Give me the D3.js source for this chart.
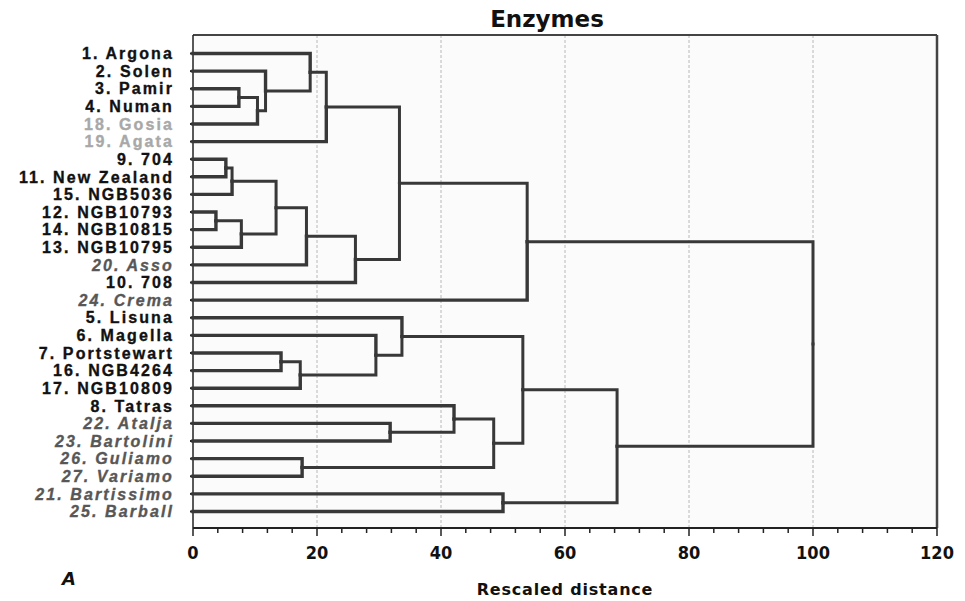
<!DOCTYPE html>
<html>
<head>
<meta charset="utf-8">
<script src="https://cdn.jsdelivr.net/npm/d3@7"></script>
<style>
  html, body { margin: 0; padding: 0; background: #ffffff; }
  svg { display: block; }
</style>
</head>
<body>
<svg id="chart" width="965" height="601"></svg>
<script>
// Leaf labels in display order (top to bottom)
const leaves = [
  "1. Argona", "2. Solen", "3. Pamir", "4. Numan", "18. Gosia", "19. Agata",
  "9. 704", "11. New Zealand", "15. NGB5036", "12. NGB10793", "14. NGB10815",
  "13. NGB10795", "20. Asso", "10. 708", "24. Crema", "5. Lisuna", "6. Magella",
  "7. Portstewart", "16. NGB4264", "17. NGB10809", "8. Tatras", "22. Atalja",
  "23. Bartolini", "26. Guliamo", "27. Variamo", "21. Bartissimo", "25. Barball"
];
// Label groups: cultivars shown light grey, and italic dark-grey ones
const greyLeaves = ["18. Gosia", "19. Agata"];
const italicLeaves = ["20. Asso", "24. Crema", "22. Atalja", "23. Bartolini",
  "26. Guliamo", "27. Variamo", "21. Bartissimo", "25. Barball"];

// Agglomeration steps: [first member, second member, rescaled distance]
// "L#" = leaf index, "M#" = earlier merge index
const merges = [
  ["L2", "L3", 7.4],     // M0
  ["M0", "L4", 10.4],    // M1
  ["L1", "M1", 11.7],    // M2
  ["L0", "M2", 18.9],    // M3
  ["M3", "L5", 21.5],    // M4
  ["L6", "L7", 5.3],     // M5
  ["M5", "L8", 6.3],     // M6
  ["L9", "L10", 3.7],    // M7
  ["M7", "L11", 7.8],    // M8
  ["M6", "M8", 13.4],    // M9
  ["M9", "L12", 18.3],   // M10
  ["M10", "L13", 26.2],  // M11
  ["M4", "M11", 33.3],   // M12
  ["M12", "L14", 53.9],  // M13
  ["L17", "L18", 14.2],  // M14
  ["M14", "L19", 17.3],  // M15
  ["L16", "M15", 29.5],  // M16
  ["L15", "M16", 33.7],  // M17
  ["L21", "L22", 31.8],  // M18
  ["L20", "M18", 42.1],  // M19
  ["L23", "L24", 17.6],  // M20
  ["M19", "M20", 48.5],  // M21
  ["M17", "M21", 53.2],  // M22
  ["L25", "L26", 50.0],  // M23
  ["M22", "M23", 68.4],  // M24
  ["M13", "M24", 100]    // M25 (root)
];

const xTicks = [0, 20, 40, 60, 80, 100, 120];
const xMinorStep = 4;
const titleText = "Enzymes";
const xTitle = "Rescaled distance";
const panelLetter = "A";

// ---- layout ----
const plot = { left: 193, right: 937, top: 35, bottom: 528 };

const svg = d3.select("#chart");

const x = d3.scaleLinear().domain([0, 120]).range([plot.left, plot.right]);
const y = d3.scalePoint().domain(d3.range(leaves.length))
  .range([53.5, 511.5]);

// Build nested tree from merge list
function node(id) {
  if (id[0] === "L") {
    const i = +id.slice(1);
    return { name: leaves[i], leaf: i, h: 0 };
  }
  const m = merges[+id.slice(1)];
  return { h: m[2], children: [node(m[0]), node(m[1])] };
}
const root = d3.hierarchy(node("M" + (merges.length - 1)));

// Vertical position: leaves on their rows, merges at mid-point of their two members
root.eachAfter(d => {
  if (d.children) d.py = d3.mean(d.children, c => c.py);
  else d.py = y(d.data.leaf);
  d.px = x(d.data.h);
});

// Plot background
svg.append("rect")
  .attr("x", plot.left).attr("y", plot.top)
  .attr("width", plot.right - plot.left).attr("height", plot.bottom - plot.top)
  .attr("fill", "#fbfbfb").attr("stroke", "none");

// Dashed vertical grid lines
svg.append("g").selectAll("line")
  .data(xTicks.filter(t => t > 0 && t < 120))
  .join("line")
  .attr("x1", d => x(d)).attr("x2", d => x(d))
  .attr("y1", plot.top).attr("y2", plot.bottom)
  .attr("stroke", "#b8b8b8").attr("stroke-width", 1)
  .attr("stroke-dasharray", "3,2");

// Frame lines
svg.append("line").attr("x1", plot.left).attr("x2", plot.right)
  .attr("y1", plot.top).attr("y2", plot.top)
  .attr("stroke", "#444").attr("stroke-width", 2);
svg.append("line").attr("x1", plot.right).attr("x2", plot.right)
  .attr("y1", plot.top).attr("y2", plot.bottom)
  .attr("stroke", "#444").attr("stroke-width", 2.5);
svg.append("line").attr("x1", plot.left).attr("x2", plot.left)
  .attr("y1", plot.top).attr("y2", plot.bottom)
  .attr("stroke", "#222").attr("stroke-width", 1.5);

// Bottom axis: major ticks with labels, minor ticks every 4 units
const axisG = svg.append("g").attr("transform", `translate(0,${plot.bottom})`);
axisG.append("line").attr("x1", plot.left).attr("x2", plot.right)
  .attr("stroke", "#222").attr("stroke-width", 2);
axisG.selectAll("line.minor")
  .data(d3.range(0, 120 + 0.01, xMinorStep))
  .join("line").attr("class", "minor")
  .attr("x1", d => x(d)).attr("x2", d => x(d))
  .attr("y1", 0).attr("y2", d => (d % 20 === 0 ? 8 : 5))
  .attr("stroke", "#222").attr("stroke-width", 1.5);
axisG.selectAll("text")
  .data(xTicks)
  .join("text")
  .attr("x", d => x(d)).attr("y", 31)
  .attr("text-anchor", "middle")
  .attr("font-family", "'Liberation Sans Narrow', 'DejaVu Sans Condensed', sans-serif")
  .attr("font-weight", "bold")
  .attr("font-size", 18)
  .attr("fill", "#111")
  .text(d => d);

// Left ticks at each leaf row
svg.append("g").selectAll("line")
  .data(d3.range(leaves.length))
  .join("line")
  .attr("x1", plot.left - 3).attr("x2", plot.left)
  .attr("y1", d => y(d)).attr("y2", d => y(d))
  .attr("stroke", "#222").attr("stroke-width", 2);

// Dendrogram elbows: child -> across to parent distance -> up/down to parent row
svg.append("g").selectAll("path")
  .data(root.links())
  .join("path")
  .attr("d", l => `M${l.target.px},${l.target.py}H${l.source.px}V${l.source.py}`)
  .attr("fill", "none")
  .attr("stroke", "#383838")
  .attr("stroke-width", l => (l.target.children ? 3 : 3.4))
  .attr("stroke-linecap", "square");

// Leaf labels
const labelColor = d => greyLeaves.includes(d) ? "#a8a8a8" : italicLeaves.includes(d) ? "#575757" : "#111";
svg.append("g").selectAll("text")
  .data(leaves)
  .join("text")
  .attr("x", 174)
  .attr("y", (d, i) => y(i))
  .attr("dy", "0.36em")
  .attr("text-anchor", "end")
  .attr("font-family", "'Liberation Sans', Arial, sans-serif")
  .attr("font-weight", "bold")
  .attr("font-size", 16)
  .attr("letter-spacing", 2.1)
  .attr("font-style", d => (italicLeaves.includes(d) ? "italic" : "normal"))
  .attr("fill", labelColor)
  .attr("stroke", labelColor)
  .attr("stroke-width", 0.35)
  .text(d => d);

// Title, axis title and panel letter
svg.append("text")
  .attr("x", 547).attr("y", 27)
  .attr("text-anchor", "middle")
  .attr("font-family", "'DejaVu Sans', sans-serif")
  .attr("font-weight", "bold").attr("font-size", 23)
  .attr("fill", "#111")
  .text(titleText);

svg.append("text")
  .attr("x", 565).attr("y", 595)
  .attr("text-anchor", "middle")
  .attr("font-family", "'DejaVu Sans', sans-serif")
  .attr("font-weight", "bold").attr("font-size", 16)
  .attr("letter-spacing", 0.8)
  .attr("fill", "#111")
  .text(xTitle);

svg.append("text")
  .attr("x", 62).attr("y", 585)
  .attr("font-family", "'DejaVu Sans', sans-serif")
  .attr("font-style", "italic").attr("font-weight", "bold")
  .attr("font-size", 18)
  .attr("fill", "#111")
  .text(panelLetter);
</script>
</body>
</html>
